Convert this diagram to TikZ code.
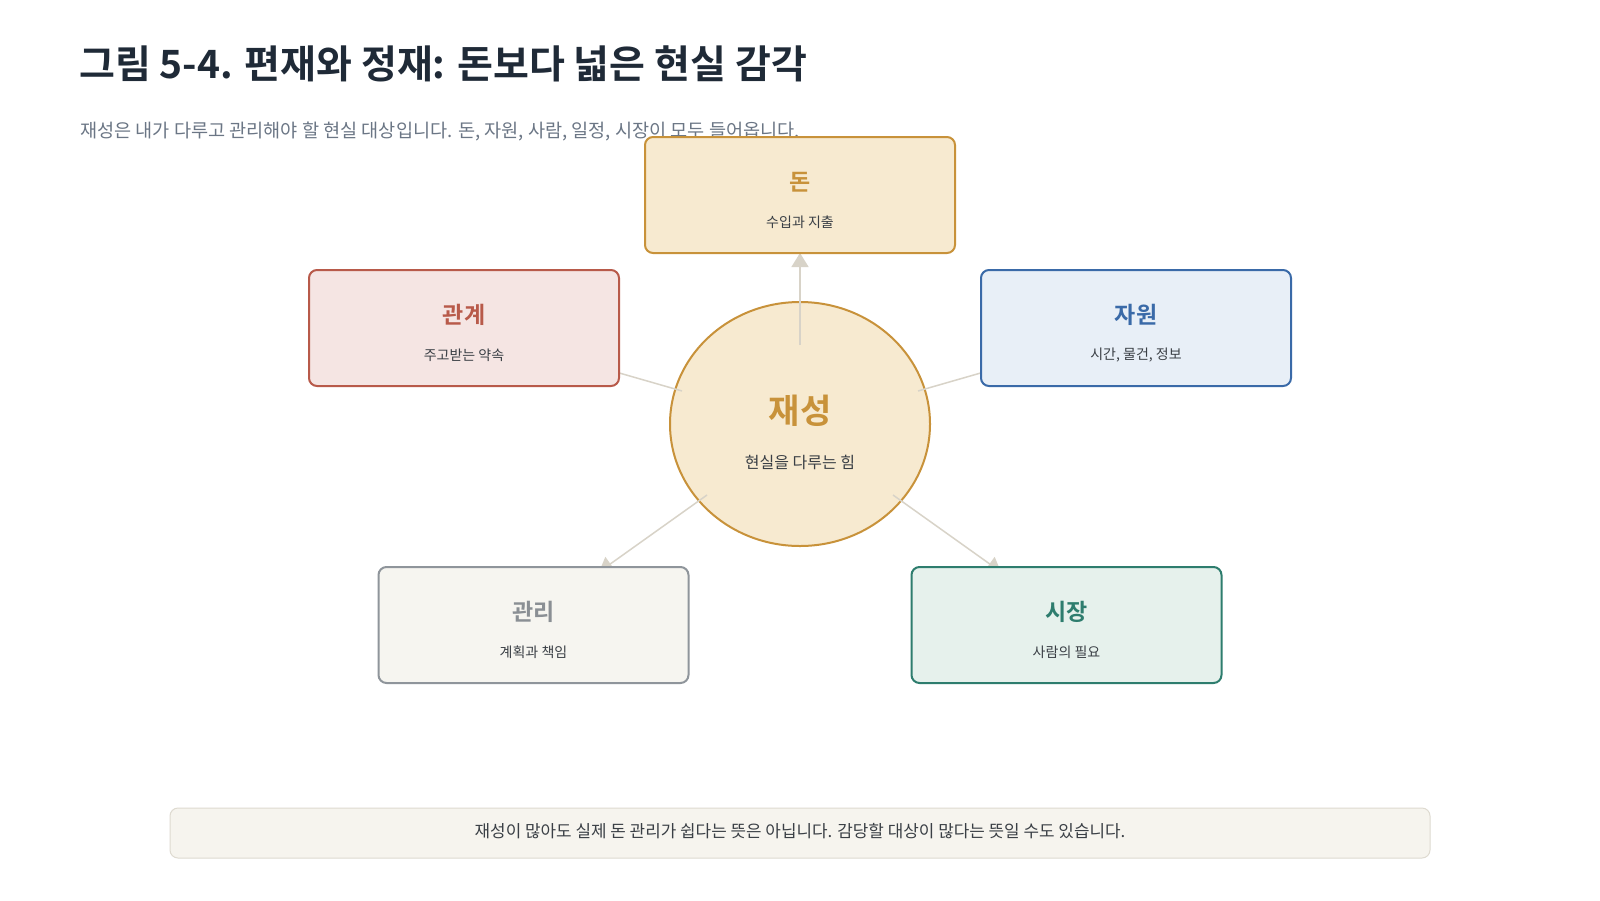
\documentclass[tikz,border=0pt]{standalone}
\usepackage{fontspec}
\setmainfont{Noto Sans CJK KR}[BoldFont={Noto Sans CJK KR Bold}]
\usetikzlibrary{arrows.meta,shapes.geometric,calc}
\definecolor{titlec}{HTML}{1F2A37}
\definecolor{subtc}{HTML}{6B7685}
\definecolor{subtext}{HTML}{3A3F45}
\definecolor{linkc}{HTML}{D8D3C8}
\definecolor{goldbd}{HTML}{C8923A}
\definecolor{goldbg}{HTML}{F7EAD0}
\definecolor{redbd}{HTML}{B85A4A}
\definecolor{redbg}{HTML}{F5E5E3}
\definecolor{bluebd}{HTML}{3A6AA8}
\definecolor{bluebg}{HTML}{E8EFF7}
\definecolor{greybd}{HTML}{8F959B}
\definecolor{greyt}{HTML}{8A8F94}
\definecolor{greybg}{HTML}{F6F5F0}
\definecolor{greenbd}{HTML}{2E7D6E}
\definecolor{greenbg}{HTML}{E6F1EC}
\definecolor{notebd}{HTML}{DEDAD0}
\definecolor{notebg}{HTML}{F6F4EE}
\begin{document}
\begin{tikzpicture}[x=1pt,y=-1pt,
  card/.style={draw, rounded corners=8pt, line width=2pt, minimum width=310pt, minimum height=116pt, inner sep=0pt},
  cardtitle/.style={font=\fontsize{23}{27}\selectfont\bfseries, inner sep=0pt},
  cardsub/.style={font=\fontsize{14}{17}\selectfont, text=subtext, inner sep=0pt},
  link/.style={draw=linkc, line width=1.5pt, -{Triangle[length=14pt,width=17pt]}}]
\fill[white] (0,0) rectangle (1600,900);
\useasboundingbox (0,0) rectangle (1600,900);

\node[anchor=west, inner sep=0pt, text=titlec, font=\fontsize{39}{46}\selectfont\bfseries] (title) at (79,64) {그림 5-4. 편재와 정재: 돈보다 넓은 현실 감각};
\node[anchor=west, inner sep=0pt, text=subtc, font=\fontsize{18.6}{22}\selectfont] (subtitle) at (80,131) {재성은 내가 다루고 관리해야 할 현실 대상입니다. 돈, 자원, 사람, 일정, 시장이 모두 들어옵니다.};

\node[ellipse, draw=goldbd, fill=goldbg, line width=2pt, minimum width=260pt, minimum height=244pt, inner sep=0pt] (core) at (800,424) {};

\coordinate (s1) at (800,345);
\coordinate (s2) at (682,391);
\coordinate (s3) at (918,391);
\coordinate (s4) at (707,495);
\coordinate (s5) at (893,495);
\coordinate (e1) at (800,253);
\coordinate (e2) at (595,366);
\coordinate (e3) at (1005,366);
\coordinate (e4) at (599,572);
\coordinate (e5) at (1001,572);
\draw[link] (s1) -- (e1);
\draw[link] (s2) -- (e2);
\draw[link] (s3) -- (e3);
\draw[link] (s4) -- (e4);
\draw[link] (s5) -- (e5);

\node[card, draw=goldbd, fill=goldbg] (money) at (800,195) {};
\node[card, draw=redbd, fill=redbg] (rel) at (464,328) {};
\node[card, draw=bluebd, fill=bluebg] (res) at (1136,328) {};
\node[card, draw=greybd, fill=greybg] (mgmt) at (533.5,625) {};
\node[card, draw=greenbd, fill=greenbg] (mkt) at (1066.5,625) {};

\node[cardtitle, text=goldbd] (moneyT) at ($(money.center)+(0,-13)$) {돈};
\node[cardsub] (moneyS) at ($(money.center)+(0,27)$) {수입과 지출};
\node[cardtitle, text=redbd] (relT) at ($(rel.center)+(0,-13)$) {관계};
\node[cardsub] (relS) at ($(rel.center)+(0,27)$) {주고받는 약속};
\node[cardtitle, text=bluebd] (resT) at ($(res.center)+(0,-13)$) {자원};
\node[cardsub] (resS) at ($(res.center)+(0,27)$) {시간, 물건, 정보};
\node[cardtitle, text=greyt] (mgmtT) at ($(mgmt.center)+(0,-13)$) {관리};
\node[cardsub] (mgmtS) at ($(mgmt.center)+(0,27)$) {계획과 책임};
\node[cardtitle, text=greenbd] (mktT) at ($(mkt.center)+(0,-13)$) {시장};
\node[cardsub] (mktS) at ($(mkt.center)+(0,27)$) {사람의 필요};

\node[text=goldbd, font=\fontsize{34}{40}\selectfont\bfseries, inner sep=0pt] (coreT) at ($(core.center)+(0,-13)$) {재성};
\node[text=subtext, font=\fontsize{16}{19}\selectfont, inner sep=0pt] (coreS) at ($(core.center)+(0,38)$) {현실을 다루는 힘};

\node[draw=notebd, fill=notebg, rounded corners=8pt, line width=1pt, minimum width=1260pt, minimum height=50pt] (note) at (800,833) {};
\node[text=subtext, font=\fontsize{16.9}{20}\selectfont, inner sep=0pt] (noteT) at (800,831) {재성이 많아도 실제 돈 관리가 쉽다는 뜻은 아닙니다. 감당할 대상이 많다는 뜻일 수도 있습니다.};
\end{tikzpicture}
\end{document}
